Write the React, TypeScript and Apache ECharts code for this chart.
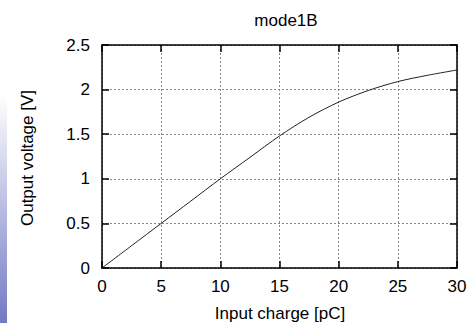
import React, { useEffect, useRef } from "react";
import * as echarts from "echarts";

const title = "mode1B";
const xName = "Input charge [pC]";
const yName = "Output voltage [V]";
const charge = [0, 2.5, 5, 7.5, 10, 12.5, 15, 17.5, 20, 22.5, 25, 27.5, 30];
const voltage = [0, 0.25, 0.5, 0.75, 1.0, 1.24, 1.48, 1.69, 1.86, 1.99, 2.09, 2.16, 2.22];

const FONT = "'Liberation Sans', Arial, Helvetica, sans-serif";
const FS = 17;

export default function App() {
  const ref = useRef<HTMLDivElement>(null);
  useEffect(() => {
    if (!ref.current) return;
    const chart = echarts.init(ref.current, undefined, { renderer: "svg" });
    const line = { show: true, onZero: false, lineStyle: { color: "#000", width: 1.5 } };
    const tick = { show: true, inside: true, length: 7, lineStyle: { color: "#000", width: 1.5 } };
    const grid = { show: true, lineStyle: { color: "#888", type: [2, 2], width: 1 } };
    chart.setOption({
      animation: false,
      backgroundColor: "#fff",
      title: {
        text: title,
        left: 281,
        top: 7,
        textAlign: "center",
        textStyle: { fontFamily: FONT, fontSize: FS, fontWeight: "normal", color: "#000" },
      },
      grid: { left: 102, right: 14, top: 45, bottom: 55, containLabel: false },
      xAxis: [
        {
          type: "value",
          position: "bottom",
          min: 0,
          max: 30,
          interval: 5,
          axisLine: line,
          axisTick: tick,
          axisLabel: { show: true, margin: 10, color: "#000", fontFamily: FONT, fontSize: FS },
          splitLine: grid,
        },
        {
          type: "value",
          position: "top",
          min: 0,
          max: 30,
          interval: 5,
          axisLine: line,
          axisTick: tick,
          axisLabel: { show: false },
          splitLine: { show: false },
        },
      ],
      yAxis: [
        {
          type: "value",
          position: "left",
          min: 0,
          max: 2.5,
          interval: 0.5,
          axisLine: line,
          axisTick: tick,
          axisLabel: { show: true, margin: 12, color: "#000", fontFamily: FONT, fontSize: FS },
          splitLine: grid,
        },
        {
          type: "value",
          position: "right",
          min: 0,
          max: 2.5,
          interval: 0.5,
          axisLine: line,
          axisTick: tick,
          axisLabel: { show: false },
          splitLine: { show: false },
        },
      ],
      graphic: [
        {
          type: "rect",
          shape: { x: 0, y: 95, width: 7, height: 228 },
          style: {
            fill: new echarts.graphic.LinearGradient(0, 0, 0, 1, [
              { offset: 0, color: "#ffffff" },
              { offset: 1, color: "#7279c4" },
            ]),
          },
          silent: true,
        },
        {
          type: "text",
          x: 27,
          y: 158,
          rotation: Math.PI / 2,
          style: {
            text: yName,
            fontFamily: FONT,
            fontSize: FS,
            fill: "#000",
            align: "center",
            verticalAlign: "middle",
          },
        },
        {
          type: "text",
          x: 280,
          y: 313,
          style: {
            text: xName,
            fontFamily: FONT,
            fontSize: FS,
            fill: "#000",
            align: "center",
            verticalAlign: "middle",
          },
        },
      ],
      series: [
        {
          type: "line",
          data: charge.map((c, i) => [c, voltage[i]]),
          smooth: 0.3,
          showSymbol: false,
          lineStyle: { color: "#222", width: 1 },
          xAxisIndex: 0,
          yAxisIndex: 0,
        },
      ],
    });
    return () => chart.dispose();
  }, []);
  return <div ref={ref} style={{ width: 471, height: 323, position: "absolute", left: 0, top: 0 }} />;
}
